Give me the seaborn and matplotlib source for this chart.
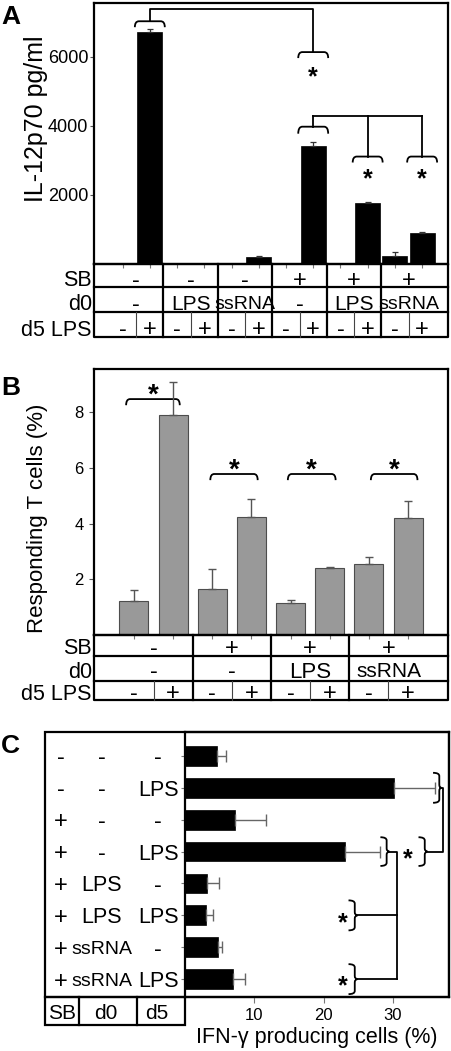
import numpy as np
import pandas as pd
import seaborn as sns
import matplotlib.pyplot as plt
from matplotlib.path import Path
from matplotlib.patches import PathPatch, Rectangle

plt.rcParams['font.family'] = ['Liberation Sans', 'DejaVu Sans']

# ---- data: panel A (IL-12p70) ----
a_sb = ['-'] * 6 + ['+'] * 6
a_d0 = ['-', '-', 'LPS', 'LPS', 'ssRNA', 'ssRNA'] * 2
a_d5 = ['-', '+'] * 6
a_il12 = [0, 6700, 0, 0, 0, 210, 0, 3400, 0, 1760, 240, 910]
a_err = [0, 95, 0, 0, 0, 15, 0, 130, 0, 40, 100, 30]

# ---- data: panel B (responding T cells) ----
b_sb = ['-', '-', '+', '+', '+', '+', '+', '+']
b_d0 = ['-', '-', '-', '-', 'LPS', 'LPS', 'ssRNA', 'ssRNA']
b_d5 = ['-', '+'] * 4
b_resp = [1.22, 7.9, 1.64, 4.22, 1.14, 2.39, 2.54, 4.19]
b_err = [0.38, 1.2, 0.72, 0.68, 0.12, 0.06, 0.25, 0.63]

# ---- data: panel C (IFN-g producing cells) ----
c_sb = ['-', '-', '+', '+', '+', '+', '+', '+']
c_d0 = ['-', '-', '-', '-', 'LPS', 'LPS', 'ssRNA', 'ssRNA']
c_d5 = ['-', 'LPS'] * 4
c_ifn = [4.6, 30.1, 7.25, 23.1, 3.17, 3.02, 4.7, 6.95]
c_err = [1.3, 6.0, 4.4, 5.1, 1.67, 1.05, 0.6, 1.65]

W, H = 452, 1051
SIGN_FS = 17


def frac(l, t, r, b):
    return [l / W, 1 - b / H, (r - l) / W, (b - t) / H]


def fs_for(lab, word_fs, small_fs):
    if lab in ('-', '+'):
        return SIGN_FS
    return small_fs if lab == 'ssRNA' else word_fs


def cap_bracket(ax, x0, x1, ytop, yend, r, lw=1.3):
    verts = [(x0, yend), (x0, ytop), (x0 + r, ytop), (x1 - r, ytop), (x1, ytop), (x1, yend)]
    codes = [Path.MOVETO, Path.CURVE3, Path.CURVE3, Path.LINETO, Path.CURVE3, Path.CURVE3]
    ax.add_patch(PathPatch(Path(verts, codes), fill=False, lw=lw, ec='black', clip_on=False))


def brace(ax, x0, x1, y0, y1, nub, r=0.1, lw=1.3):
    ym = (y0 + y1) / 2
    verts = [(x0, y0), (x1, y0), (x1, y0 + r), (x1, ym - r), (x1, ym), (x1 + nub, ym),
             (x1, ym), (x1, ym + r), (x1, y1 - r), (x1, y1), (x0, y1)]
    codes = [Path.MOVETO, Path.CURVE3, Path.CURVE3, Path.LINETO, Path.CURVE3, Path.CURVE3,
             Path.CURVE3, Path.CURVE3, Path.LINETO, Path.CURVE3, Path.CURVE3]
    ax.add_patch(PathPatch(Path(verts, codes), fill=False, lw=lw, ec='black', clip_on=False))


def star(ax, x, y, fs):
    ax.annotate('*', xy=(x, y), xytext=(0, -0.2 * fs), textcoords='offset points',
                ha='center', va='center_baseline', fontsize=fs, fontweight='bold',
                annotation_clip=False)


def table(ax, sb, d0, d5, rows, xlim, hpx, shift, fs=15, fs_small=14):
    tr = ax.get_xaxis_transform()
    n = len(d5)
    y0, y3 = rows[0], rows[3]
    thick = dict(transform=tr, clip_on=False, color='black', lw=1.6, solid_capstyle='projecting')
    ax.plot([xlim[0], xlim[1], xlim[1], xlim[0], xlim[0]], [y0, y0, y3, y3, y0], **thick)
    for y in rows[1:3]:
        ax.plot(list(xlim), [y, y], **thick)
    for k in range(1, n // 2):
        ax.plot([2 * k - 0.5] * 2, [y0, y3], **thick)
    for k in range(n // 2):
        ax.plot([2 * k + 0.5] * 2, [rows[2], y3], transform=tr, clip_on=False,
                color='#444444', lw=0.8)
    dy = shift / hpx
    for k in range(n // 2):
        cx = (max(xlim[0], 2 * k - 0.5) + min(xlim[1], 2 * k + 1.5)) / 2
        ax.text(cx, (rows[0] + rows[1]) / 2 - dy, sb[2 * k], transform=tr, ha='center',
                va='center_baseline', fontsize=fs_for(sb[2 * k], fs, fs_small))
        lab = d0[2 * k]
        ax.text(cx, (rows[1] + rows[2]) / 2 - dy, lab, transform=tr, ha='center',
                va='center_baseline', fontsize=fs_for(lab, fs, fs_small))
    for i in range(n):
        ax.text(i, (rows[2] + rows[3]) / 2 - dy, d5[i], transform=tr, ha='center',
                va='center_baseline', fontsize=fs_for(d5[i], fs, fs_small))
    for lab, r in zip(['SB', 'd0', 'd5 LPS'], range(3)):
        ax.text(-0.006, (rows[r] + rows[r + 1]) / 2 - dy, lab, transform=ax.transAxes,
                ha='right', va='center_baseline', fontsize=15.5)


fig = plt.figure(figsize=(W / 100, H / 100), dpi=100)

# ================= Panel A =================
axA = fig.add_axes(frac(94, 3, 448, 264))
cats_a = [f'{s}/{d}/{e}' for s, d, e in zip(a_sb, a_d0, a_d5)]
sns.barplot(x=cats_a, y=a_il12, color='black', width=0.92, saturation=1,
            errorbar=None, edgecolor='black', linewidth=0.5, ax=axA)
ia = [i for i, e in enumerate(a_err) if e > 0]
axA.errorbar(ia, [a_il12[i] for i in ia], yerr=[[0] * len(ia), [a_err[i] for i in ia]],
             fmt='none', ecolor='#333333', elinewidth=0.9, capsize=2.5, capthick=0.9)
xlimA = (-1.05, 11.95)
axA.set_xlim(*xlimA)
axA.set_ylim(0, 7550)
axA.set_yticks([2000, 4000, 6000])
axA.set_xticks(range(12))
axA.set_xticklabels([])
axA.tick_params(axis='y', length=3, width=0.8, color='#555555', labelsize=13, pad=1)
axA.tick_params(axis='x', length=3, width=0.8, color='#777777')
axA.set_xlabel('')
axA.set_ylabel('IL-12p70 pg/ml', fontsize=18)
axA.yaxis.set_label_coords(-0.13, 0.557)
for s in axA.spines.values():
    s.set_linewidth(1.6)

# significance brackets A
cap_bracket(axA, 0.45, 1.55, 7022, 6850, 0.15)
axA.plot([1, 1, 7, 7], [7022, 7368, 7368, 6130], color='black', lw=1.3, clip_on=False)
cap_bracket(axA, 6.45, 7.55, 6130, 5957, 0.15)
star(axA, 7, 5612, 18)
cap_bracket(axA, 6.45, 7.55, 3972, 3770, 0.15)
axA.plot([7, 7], [3972, 4288], color='black', lw=1.3)
axA.plot([7, 11], [4288, 4288], color='black', lw=1.3)
for xb in (9, 11):
    axA.plot([xb, xb], [4288, 3108], color='black', lw=1.3)
    cap_bracket(axA, xb - 0.55, xb + 0.55, 3108, 2936, 0.15)
    star(axA, xb, 2677, 18)

table(axA, a_sb, a_d0, a_d5, [0, -23 / 261, -48 / 261, -73 / 261], xlimA, 261, 3)

# ================= Panel B =================
axB = fig.add_axes(frac(94, 369, 448, 635))
cats_b = [f'{s}/{d}/{e}' for s, d, e in zip(b_sb, b_d0, b_d5)]
sns.barplot(x=cats_b, y=b_resp, color='#999999', width=0.74, saturation=1,
            errorbar=None, edgecolor='#4d4d4d', linewidth=0.8, ax=axB)
axB.errorbar(range(8), b_resp, yerr=[[0] * 8, b_err], fmt='none', ecolor='#555555',
             elinewidth=1, capsize=3, capthick=1)
xlimB = (-1.02, 8.02)
axB.set_xlim(*xlimB)
axB.set_ylim(0, 9.55)
axB.set_yticks([2, 4, 6, 8])
axB.set_xticks(range(8))
axB.set_xticklabels([])
axB.tick_params(axis='y', length=3.5, width=0.8, color='#555555', labelsize=12, pad=4)
axB.tick_params(axis='x', length=3, width=0.8, color='#777777')
axB.set_xlabel('')
axB.set_ylabel('Responding T cells (%)', fontsize=16)
axB.yaxis.set_label_coords(-0.13, 0.44)
for s in axB.spines.values():
    s.set_linewidth(1.6)

for x0, x1, yt in [(-0.2, 1.17, 8.47), (1.95, 3.16, 5.78), (3.93, 5.15, 5.78), (6.05, 7.24, 5.78)]:
    cap_bracket(axB, x0, x1, yt, yt - 0.22, 0.1)
    star(axB, (x0 + x1) / 2, yt + 0.43, 20)

table(axB, b_sb, b_d0, b_d5, [0, -21 / 266, -46 / 266, -65 / 266], xlimB, 266, 1,
      fs=16, fs_small=15)

# ================= Panel C =================
axC = fig.add_axes(frac(185, 732, 449, 997))
cats_c = [f'{s} {d} {e}' for s, d, e in zip(c_sb, c_d0, c_d5)]
sns.barplot(x=c_ifn, y=cats_c, orient='h', color='black', width=0.62, saturation=1,
            errorbar=None, edgecolor='black', linewidth=0.5, ax=axC)
axC.errorbar(c_ifn, range(8), xerr=[[0] * 8, c_err], fmt='none', ecolor='#666666',
             elinewidth=1, capsize=4, capthick=1)
axC.set_xlim(0, 38.1)
axC.set_ylim(7.56, -0.75)
axC.set_xticks([10, 20, 30])
axC.set_yticks(range(8))
axC.set_yticklabels([])
axC.tick_params(axis='x', length=4, width=0.8, color='#777777', labelsize=12, pad=4)
axC.tick_params(axis='y', length=3, width=0.8, color='#777777')
axC.set_ylabel('')
axC.set_xlabel('IFN-γ producing cells (%)', fontsize=15.5, labelpad=3)
for s in axC.spines.values():
    s.set_linewidth(1.6)
axC.add_patch(Rectangle((-0.530, 0), 1.530, 1, transform=axC.transAxes, fill=False,
                        lw=1.6, ec='black', clip_on=False))

ytr = axC.get_yaxis_transform()
for i in range(8):
    axC.text(-0.470, i, c_sb[i], transform=ytr, ha='center', va='center_baseline',
             fontsize=fs_for(c_sb[i], 15.5, 14))
    axC.text(-0.315, i, c_d0[i], transform=ytr, ha='center', va='center_baseline',
             fontsize=fs_for(c_d0[i], 15.5, 14))
    axC.text(-0.102, i, c_d5[i], transform=ytr, ha='center', va='center_baseline',
             fontsize=fs_for(c_d5[i], 15.5, 14))

# legend table under the row labels
axC.add_patch(Rectangle((-0.530, -0.106), 0.530, 0.106, transform=axC.transAxes,
                        fill=False, lw=1.6, ec='black', clip_on=False))
for xv in (-0.402, -0.182):
    axC.plot([xv, xv], [-0.106, 0], transform=axC.transAxes, color='black', lw=1.6,
             clip_on=False)
for lab, xv in zip(['SB', 'd0', 'd5'], [-0.466, -0.299, -0.106]):
    axC.text(xv, -0.053, lab, transform=axC.transAxes, ha='center', va='center_baseline',
             fontsize=15)

# significance braces C
brace(axC, 35.8, 36.7, 0.53, 1.47, 0.3)
axC.plot([37.0, 37.3, 37.3, 35.0], [1, 1, 3, 3], color='black', lw=1.3, clip_on=False)
brace(axC, 33.7, 34.6, 2.55, 3.45, 0.4)
star(axC, 32.1, 3, 18)
brace(axC, 28.2, 29.1, 2.55, 3.45, 0.4)
axC.plot([29.5, 30.6, 30.6], [3, 3, 7], color='black', lw=1.3)
for r in (5, 7):
    axC.plot([30.6, 24.9], [r, r], color='black', lw=1.3)
    brace(axC, 23.6, 24.5, r - 0.47, r + 0.47, 0.4)
    star(axC, 22.7, r, 18)

# panel letters
for lab, top in [('A', 5), ('B', 376), ('C', 734)]:
    fig.text(0.002, 1 - top / H, lab, fontsize=19, fontweight='bold', ha='left', va='top')

fig.savefig('out.png', dpi=100)
